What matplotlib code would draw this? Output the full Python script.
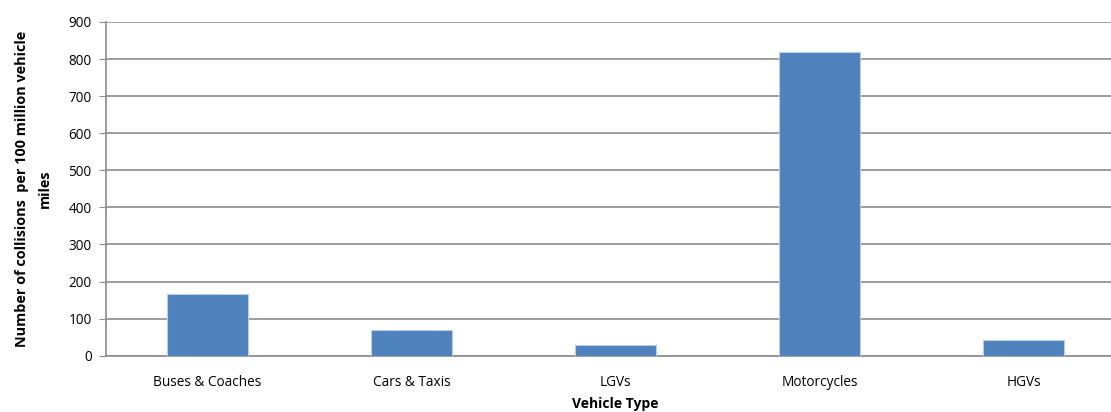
import numpy as np
import matplotlib.pyplot as plt

# Collision rates by vehicle type
vehicle_types = ['Buses & Coaches', 'Cars & Taxis', 'LGVs', 'Motorcycles', 'HGVs']
collisions = [166, 69, 30, 820, 43]

plt.rcParams['font.family'] = ['Open Sans', 'DejaVu Sans']

fig = plt.figure(figsize=(11.11, 4.12), dpi=100)
ax = fig.add_axes([0.095, 0.1367, 0.918, 0.81])

x = np.arange(len(vehicle_types))
ax.bar(x, collisions, width=0.4, color='#4f81bd', edgecolor='#b9cde5',
       linewidth=0.8, zorder=3)

ax.set_xlim(-0.5, 4.5)
ax.set_ylim(0, 900)
ax.set_yticks(np.arange(0, 901, 100))
ax.set_xticks(x)
ax.set_xticklabels(vehicle_types)
ax.yaxis.grid(True, color='#8c8c8c', linewidth=1.2, zorder=0)

for side in ['top', 'right']:
    ax.spines[side].set_visible(False)
ax.spines['left'].set_color('#8c8c8c')
ax.spines['left'].set_linewidth(1.2)
ax.spines['bottom'].set_color('#8c8c8c')
ax.spines['bottom'].set_linewidth(1.2)

ax.tick_params(axis='y', length=5, color='#8c8c8c', labelsize=9.8, pad=5)
ax.tick_params(axis='x', length=0, labelsize=9.8, pad=14)

ax.set_xlabel('Vehicle Type', fontsize=10, fontweight='bold', labelpad=5)
ax.set_ylabel('Number of collisions  per 100 million vehicle\nmiles',
              fontsize=10.4, fontweight='bold', linespacing=1.75, labelpad=12)

fig.savefig('out.png', dpi=100)
